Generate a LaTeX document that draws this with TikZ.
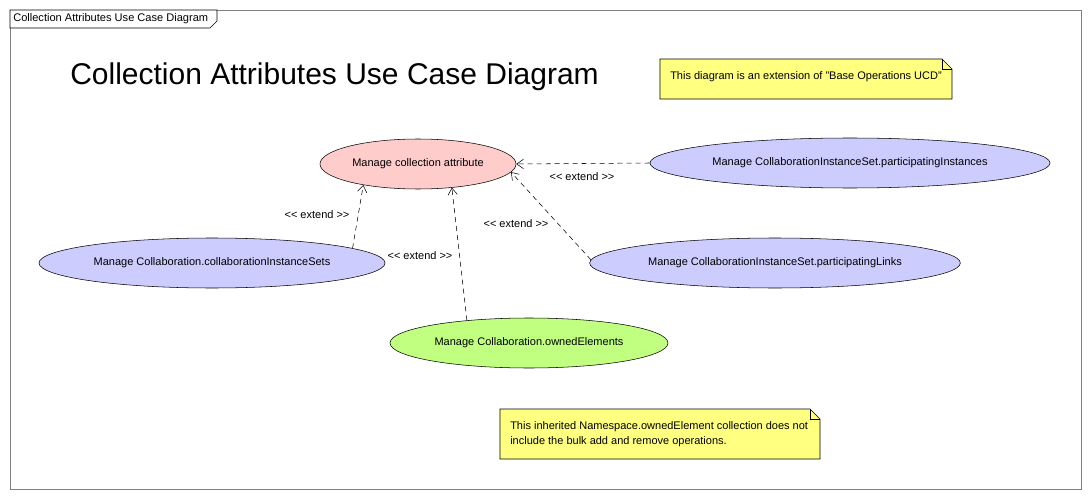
\documentclass[tikz,border=0pt]{standalone}
\usepackage{fontspec}
\setmainfont{Liberation Sans}
\usetikzlibrary{shapes.geometric, arrows.meta}

\definecolor{framegray}{HTML}{808080}
\definecolor{attrpink}{HTML}{FFCCCC}
\definecolor{ucblue}{HTML}{CCCCFF}
\definecolor{ucgreen}{HTML}{C0FF80}
\definecolor{noteyellow}{HTML}{FFFF80}

\tikzset{
  usecase/.style = {ellipse, draw, inner sep=0pt, minimum height=37.5pt,
    font=\fontsize{8.25}{10}\selectfont},
  extendline/.style = {draw, dash pattern=on 3.75pt off 3pt,
    -{Straight Barb[length=5pt, width=7pt]}},
  extendlabel/.style = {font=\fontsize{8.25}{10}\selectfont, inner sep=0pt},
  notetext/.style = {font=\fontsize{8.25}{11.25}\selectfont, inner sep=0pt, anchor=west, align=left}
}

\begin{document}
\begin{tikzpicture}[x=0.75pt, y=-0.75pt]
\useasboundingbox (0,0) rectangle (1091,499);
% frame and tab
\draw[framegray] (10,10) rectangle (1081,489);
\draw[fill=white] (10,10) -- (217,10) -- (217,21) -- (210,28) -- (10,28) -- cycle;
\node[anchor=west, inner sep=0pt, font=\fontsize{8.3}{10}\selectfont] (tab) at (13,19) {Collection Attributes Use Case Diagram};
\node[anchor=west, inner sep=0pt, font=\fontsize{22.5}{27}\selectfont] (title) at (70,77) {Collection Attributes Use Case Diagram};

% notes
\draw[fill=noteyellow] (660,59) -- (942,59) -- (952,69) -- (952,99) -- (660,99) -- cycle;
\draw (942,59) -- (942,69) -- (952,69);
\node[notetext] (note1) at (670,77) {This diagram is an extension of "Base Operations UCD"};
\draw[fill=noteyellow] (500,409) -- (810,409) -- (820,419) -- (820,459) -- (500,459) -- cycle;
\draw (810,409) -- (810,419) -- (820,419);
\node[notetext] (note2) at (510,434.5) {This inherited Namespace.ownedElement collection does not\\include the bulk add and remove operations.};

% use cases
\node[usecase, fill=attrpink, minimum width=147pt] (attr) at (418,164) {Manage collection attribute};
\node[usecase, fill=ucblue, minimum width=300pt] (instances) at (850,163) {Manage CollaborationInstanceSet.participatingInstances};
\node[usecase, fill=ucblue, minimum width=259.5pt] (sets) at (212,263) {Manage Collaboration.collaborationInstanceSets};
\node[usecase, fill=ucblue, minimum width=278pt] (links) at (775,263) {Manage CollaborationInstanceSet.participatingLinks};
\node[usecase, fill=ucgreen, minimum width=208.5pt] (owned) at (529,343) {Manage Collaboration.ownedElements};

% extend relations
\path[extendline] (instances.180) -- (attr.0);
\path[extendline] (sets.6) -- (attr.201);
\path[extendline] (owned.160) -- (attr.-35);
\path[extendline] (links.179) -- (attr.-5);

\node[extendlabel] (lbl1) at (582,177) {<{}< extend >{}>};
\node[extendlabel] (lbl2) at (317,215) {<{}< extend >{}>};
\node[extendlabel] (lbl3) at (420,256) {<{}< extend >{}>};
\node[extendlabel] (lbl4) at (516,224) {<{}< extend >{}>};
\end{tikzpicture}
\end{document}
